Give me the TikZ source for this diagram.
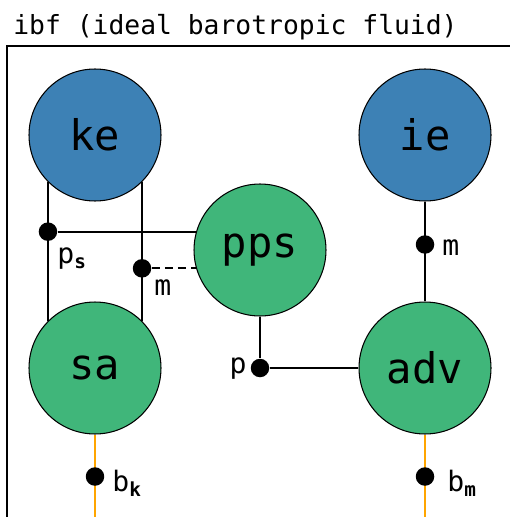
\documentclass[tikz,border=0pt]{standalone}
\usepackage{fontspec}
\setmainfont{DejaVu Sans Mono}
\usetikzlibrary{calc}
\definecolor{fluidblue}{RGB}{61, 129, 181}
\definecolor{fluidgreen}{RGB}{64, 182, 122}
\definecolor{bcorange}{RGB}{255, 165, 0}
\newcommand{\lowsub}[1]{\raisebox{-0.2em}{\fontsize{11}{11}\selectfont\bfseries #1}}

\begin{document}
\begin{tikzpicture}[x=0.02cm, y=-0.02cm,
    quantity/.style={circle, draw=black, line width=0.6pt, minimum size=2.64cm, inner sep=0pt, font=\fontsize{24}{24}\selectfont},
    energy/.style={quantity, fill=fluidblue},
    process/.style={quantity, fill=fluidgreen},
    junction/.style={circle, fill=black, minimum size=0.37cm, inner sep=0pt},
    wire/.style={line width=1.1pt},
    bcwire/.style={line width=1.1pt, bcorange},
    lbl/.style={font=\fontsize{16}{16}\selectfont, inner sep=0pt}]
    \useasboundingbox (0,0) rectangle (510,517);
    \node[anchor=base west, inner sep=0pt, font=\fontsize{15}{15}\selectfont] (title) at (13,35) {ibf (ideal barotropic fluid)};
    \draw[line width=1.1pt] (510,46) -| (7,517);

    \node[energy] (ke) at (95,135) {ke};
    \node[energy] (ie) at (425,135) {ie};
    \node[process] (pps) at (260,250) {pps};
    \node[process] (sa) at (95,368) {sa};
    \node[process] (adv) at (425,368) {adv};

    \draw[wire] (ke.-135) -- (sa.135);
    \draw[wire] (ke.-45) -- (sa.45);
    \node[junction] (psdot) at (ke.-135 |- pps.164) {};
    \node[junction] (mdot) at (ke.-45 |- pps.196) {};
    \draw[wire] (psdot) -- (pps.164);
    \draw[wire, dash pattern=on 4.5pt off 3pt] (mdot) -- (pps.196);
    \node[lbl, anchor=base west] (pslbl) at (57,263) {p\lowsub{s}};
    \node[lbl, anchor=base west] (mlbl) at (154,295) {m};

    \node[junction] (pdot) at (pps.south |- adv.west) {};
    \draw[wire] (pps.south) -- (pdot) -- (adv.west);
    \node[lbl, anchor=base east] (plbl) at (247,373) {p};

    \draw[wire] (ie.south) -- (adv.north);
    \node[junction] (iedot) at ($(ie.south)!0.43!(adv.north)$) {};
    \node[lbl, anchor=base west] (ielbl) at (442,255) {m};

    \coordinate (bkend) at (sa.south |- 0,517);
    \coordinate (bmend) at (adv.south |- 0,517);
    \draw[bcwire] (sa.south) -- (bkend);
    \draw[bcwire] (adv.south) -- (bmend);
    \node[junction] (bkdot) at ($(sa.south)+(0,42)$) {};
    \node[junction] (bmdot) at ($(adv.south)+(0,42)$) {};
    \node[lbl, anchor=base west] (bklbl) at (112,491) {b\lowsub{k}};
    \node[lbl, anchor=base west] (bmlbl) at (447,491) {b\lowsub{m}};
\end{tikzpicture}
\end{document}
